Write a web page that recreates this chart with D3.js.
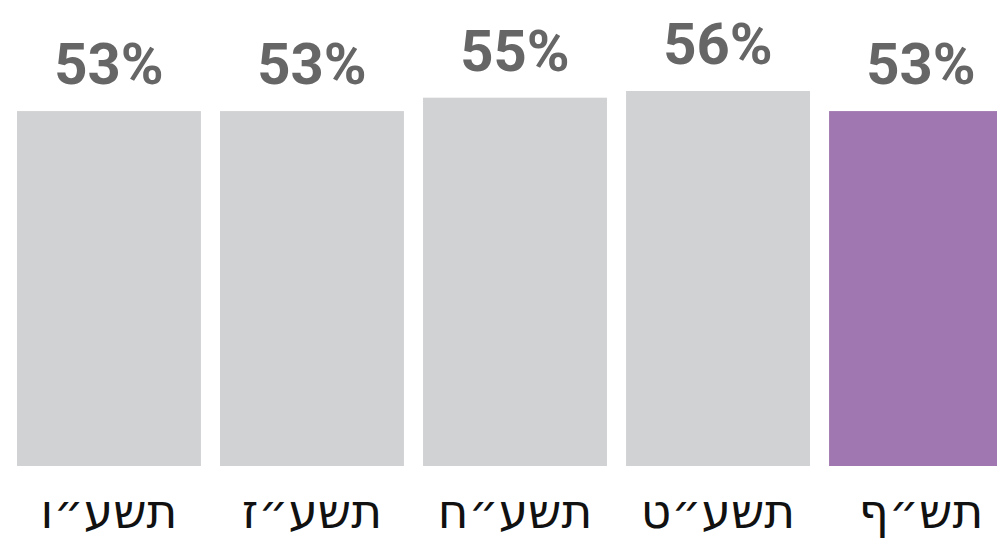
<!DOCTYPE html>
<html>
<head>
<meta charset="utf-8">
<script src="https://cdn.jsdelivr.net/npm/d3@7"></script>
<style>
  html, body { margin: 0; padding: 0; background: #fff; overflow: hidden; }
</style>
</head>
<body>
<svg id="chart"></svg>
<script>
// school years (oldest to newest) and their share
var years = ["תשע״ו", "תשע״ז", "תשע״ח", "תשע״ט", "תש״ף"];
var values = [53, 53, 55, 56, 53];
var highlight = "תש״ף";

var width = 997, height = 541;
var svg = d3.select('#chart')
    .attr('width', width)
    .attr('height', height);

var baseY = 466;

let xScale = d3.scaleBand()
    .domain(years)
    .range([17, 1013])
    .paddingInner(0.094)
    .paddingOuter(0);

let yScale = d3.scaleLinear()
    .domain([0, 56])
    .range([baseY, 91]);

svg.selectAll('.bar')
    .data(years)
    .enter().append('rect')
    .attr('class', 'bar')
    .attr('x', d => xScale(d))
    .attr('width', xScale.bandwidth())
    .attr('y', (d, i) => yScale(values[i]))
    .attr('height', (d, i) => baseY - yScale(values[i]))
    .style('fill', d => d === highlight ? '#a077b1' : '#d1d2d4');

// value labels above bars
svg.selectAll('.val')
    .data(years)
    .enter().append('text')
    .attr('class', 'val')
    .attr('x', d => xScale(d) + xScale.bandwidth() / 2)
    .attr('y', (d, i) => yScale(values[i]) - 27)
    .attr('text-anchor', 'middle')
    .style('font-family', 'Roboto, sans-serif')
    .style('font-weight', 'bold')
    .style('font-size', '58px')
    .style('fill', '#666666')
    .text((d, i) => values[i] + '%');

// year labels under bars
let xAxis = svg.append('g')
    .attr('transform', `translate(0,${baseY})`)
    .call(d3.axisBottom(xScale).tickSize(0).tickPadding(0));
xAxis.select('.domain').remove();
xAxis.selectAll('.tick text')
    .attr('y', 62)
    .attr('dy', 0)
    .attr('direction', 'rtl')
    .attr('text-anchor', 'middle')
    .style('font-family', '"DejaVu Sans", sans-serif')
    .style('font-size', '47px')
    .style('fill', '#111');
</script>
</body>
</html>
